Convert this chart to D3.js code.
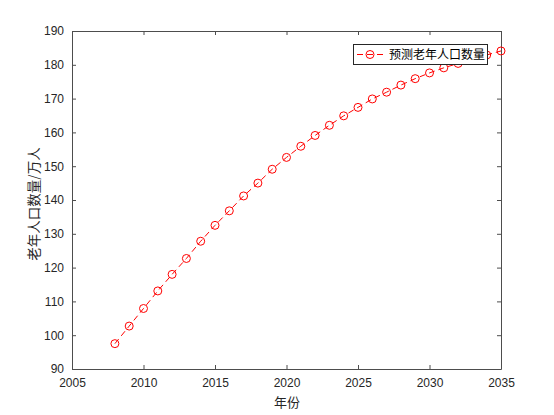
<!DOCTYPE html>
<html>
<head>
<meta charset="utf-8">
<script src="https://cdn.jsdelivr.net/npm/d3@7"></script>
<style>
  body { margin: 0; background: #fff; }
  text { font-family: "Liberation Sans", Arial, sans-serif; }
  .cjk { font-family: "Noto Sans CJK SC", sans-serif; }
</style>
</head>
<body>
<svg id="chart" width="554" height="415"></svg>
<script>
// data
var years = [2008, 2009, 2010, 2011, 2012, 2013, 2014, 2015, 2016, 2017,
             2018, 2019, 2020, 2021, 2022, 2023, 2024, 2025, 2026, 2027,
             2028, 2029, 2030, 2031, 2032, 2033, 2034, 2035];
var elderly = [97.5, 102.7, 107.9, 113.1, 118.0, 122.7, 127.8, 132.5, 136.8, 141.2,
               145.0, 149.1, 152.6, 155.9, 159.1, 162.1, 164.9, 167.4, 169.9, 171.9,
               174.0, 175.9, 177.6, 179.1, 180.4, 181.6, 182.9, 184.1];
var xTicks = [2005, 2010, 2015, 2020, 2025, 2030, 2035];
var yTicks = [90, 100, 110, 120, 130, 140, 150, 160, 170, 180, 190];
var seriesName = '预测老年人口数量';

var svg = d3.select('#chart');
// plot box (note: "top" is taken by window.top)
var pLeft = 72, pRight = 501, pTop = 31, pBottom = 369;
var axisColor = '#4d4d4d';

var x = d3.scaleLinear().domain([2005, 2035]).range([pLeft, pRight]);
var y = d3.scaleLinear().domain([90, 190]).range([pBottom, pTop]);

// bottom axis (ticks inward)
svg.append('g')
    .attr('transform', 'translate(0,' + pBottom + ')')
    .call(d3.axisBottom(x).tickValues(xTicks).tickFormat(d3.format('d'))
        .tickSizeInner(-4).tickSizeOuter(0).tickPadding(9));
// left axis
svg.append('g')
    .attr('transform', 'translate(' + pLeft + ',0)')
    .call(d3.axisLeft(y).tickValues(yTicks).tickSizeInner(-4).tickSizeOuter(0).tickPadding(8));
// top and right, ticks only
svg.append('g')
    .attr('transform', 'translate(0,' + pTop + ')')
    .call(d3.axisTop(x).tickValues(xTicks).tickFormat('').tickSizeInner(-4).tickSizeOuter(0));
svg.append('g')
    .attr('transform', 'translate(' + pRight + ',0)')
    .call(d3.axisRight(y).tickValues(yTicks).tickFormat('').tickSizeInner(-4).tickSizeOuter(0));

svg.selectAll('.domain, .tick line').attr('stroke', axisColor);
svg.selectAll('.tick text')
    .attr('fill', '#262626')
    .style('font-size', '12px')
    .style('font-family', '"Liberation Sans", Arial, sans-serif');

// series
var line = d3.line().x(function (d, i) { return x(years[i]); })
    .y(function (d) { return y(d); });

svg.append('path')
    .datum(elderly)
    .attr('d', line)
    .attr('fill', 'none')
    .attr('stroke', '#ff0000')
    .attr('stroke-width', 1)
    .attr('stroke-dasharray', '6,4');

svg.selectAll('circle.pt')
    .data(elderly)
    .enter().append('circle')
    .attr('class', 'pt')
    .attr('cx', function (d, i) { return x(years[i]); })
    .attr('cy', function (d) { return y(d); })
    .attr('r', 4)
    .attr('fill', 'none')
    .attr('stroke', '#ff0000')
    .attr('stroke-width', 1);

// legend
var lg = svg.append('g').attr('transform', 'translate(353,44)');
lg.append('rect')
    .attr('x', 0.5).attr('y', 0.5)
    .attr('width', 134).attr('height', 20)
    .attr('fill', '#fff')
    .attr('stroke', '#262626');
lg.append('line')
    .attr('x1', 4).attr('x2', 32).attr('y1', 10.5).attr('y2', 10.5)
    .attr('stroke', '#ff0000').attr('stroke-dasharray', '6,4');
lg.append('circle')
    .attr('cx', 17).attr('cy', 10.5).attr('r', 4)
    .attr('fill', 'none').attr('stroke', '#ff0000');
lg.append('text')
    .attr('class', 'cjk')
    .attr('x', 36).attr('y', 15)
    .attr('fill', '#000')
    .style('font-size', '12px')
    .text(seriesName);

// axis labels
svg.append('text')
    .attr('class', 'cjk')
    .attr('x', 287).attr('y', 407)
    .attr('text-anchor', 'middle')
    .attr('fill', '#262626')
    .style('font-size', '13px')
    .text('年份');

svg.append('text')
    .attr('class', 'cjk')
    .attr('transform', 'translate(38.5,204) rotate(-90)')
    .attr('text-anchor', 'middle')
    .attr('fill', '#262626')
    .style('font-size', '13.5px')
    .text('老年人口数量/万人');
</script>
</body>
</html>
